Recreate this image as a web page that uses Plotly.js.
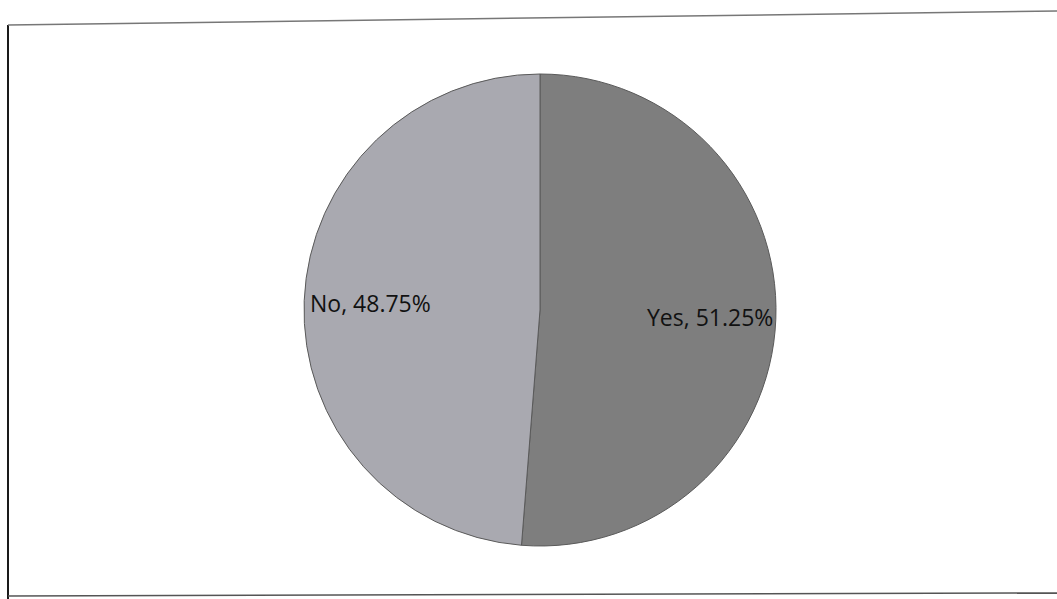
<!DOCTYPE html>
<html>
<head>
<meta charset="utf-8">
<script src="https://cdn.plot.ly/plotly-3.0.1.min.js"></script>
<style>html,body{margin:0;padding:0;background:#fff;}#chart{width:1057px;height:599px;}</style>
</head>
<body>
<div id="chart"></div>
<script>
const labels = ["Yes", "No"];
const values = [51.25, 48.75];
const colors = ["#7e7e7e", "#a9a9b0"];

const W = 1057, H = 599;
const cx = 540, cy = 310, r = 236;
const labelRadius = 0.72;

const trace = {
  type: "pie",
  labels: labels,
  values: values,
  sort: false,
  direction: "clockwise",
  rotation: 0,
  marker: {colors: colors, line: {color: "#5a5a5a", width: 1}},
  textinfo: "none",
  hoverinfo: "none",
  showlegend: false,
  domain: {x: [(cx - r) / W, (cx + r) / W], y: [(H - cy - r) / H, (H - cy + r) / H]}
};

// data labels placed along each slice's bisector
const total = values.reduce((a, b) => a + b, 0);
let cum = 0;
const annotations = labels.map((lab, i) => {
  const mid = (cum + values[i] / 2) / total;
  cum += values[i];
  const ang = mid * 2 * Math.PI; // clockwise from top
  const px = cx + Math.sin(ang) * r * labelRadius;
  const py = cy - Math.cos(ang) * r * labelRadius;
  return {
    xref: "paper", yref: "paper",
    x: px / W, y: 1 - py / H,
    xanchor: "center", yanchor: "middle",
    showarrow: false,
    text: lab + ", " + values[i].toFixed(2) + "%",
    font: {family: "Open Sans, Liberation Sans, sans-serif", size: 23, color: "#111"}
  };
});

const layout = {
  width: W, height: H,
  margin: {l: 0, r: 0, t: 0, b: 0},
  paper_bgcolor: "#ffffff",
  showlegend: false,
  annotations: annotations,
  shapes: [
    {type: "line", xref: "paper", yref: "paper", x0: 8 / W, y0: 1 - 25 / H, x1: 8 / W, y1: 0, line: {color: "#1a1a1a", width: 2}},
    {type: "line", xref: "paper", yref: "paper", x0: 8 / W, y0: 1 - 25 / H, x1: 1, y1: 1 - 11 / H, line: {color: "#777", width: 1.5}},
    {type: "line", xref: "paper", yref: "paper", x0: 8 / W, y0: 1 - 596 / H, x1: 1, y1: 1 - 593 / H, line: {color: "#555", width: 1.5}}
  ]
};

Plotly.newPlot("chart", [trace], layout, {staticPlot: true, displayModeBar: false});
</script>
</body>
</html>
